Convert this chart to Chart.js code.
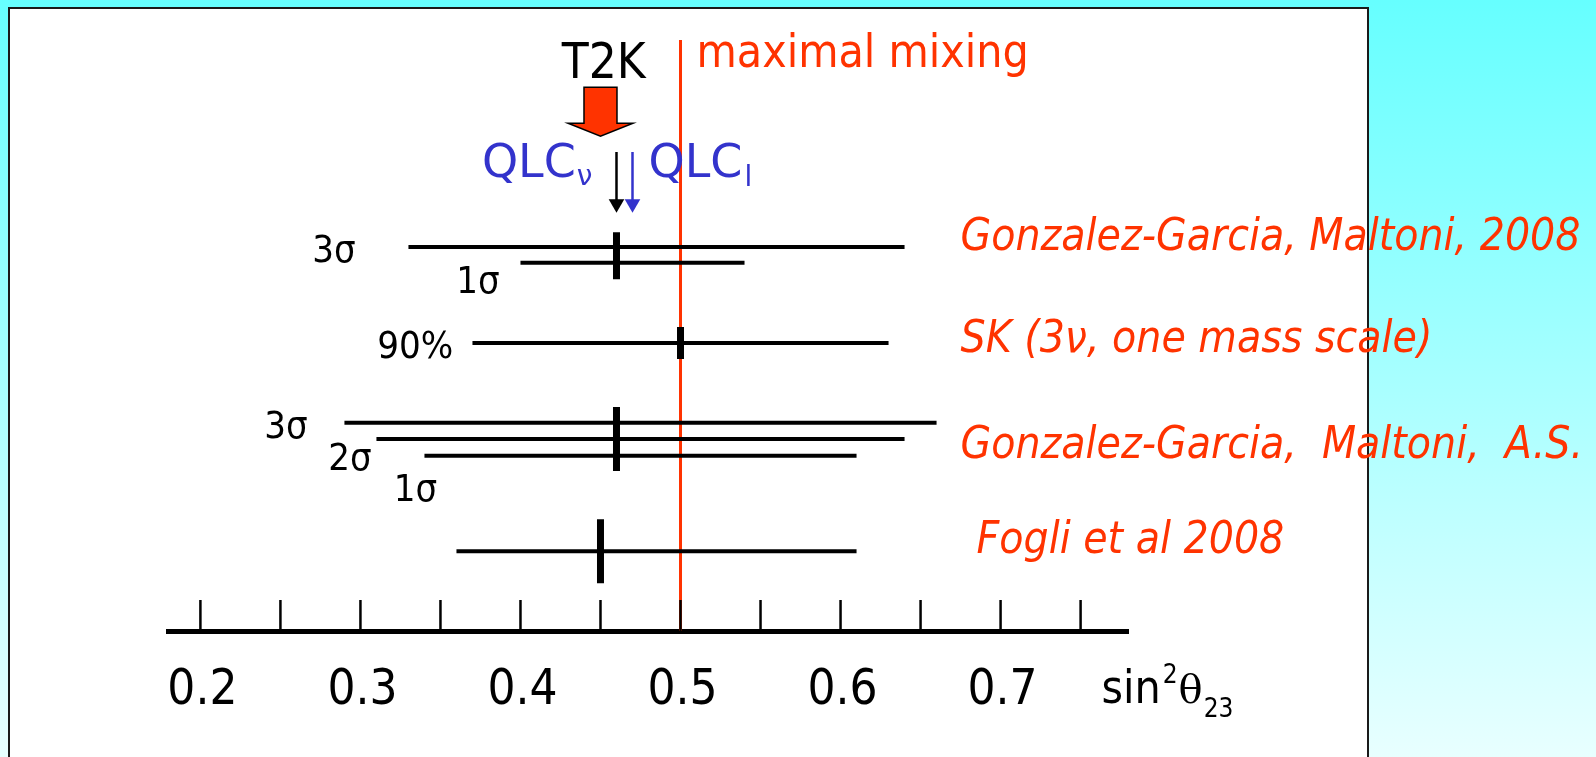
<!DOCTYPE html>
<html>
<head>
<meta charset="utf-8">
<title>sin2 theta23 fits</title>
<script src="https://cdn.jsdelivr.net/npm/chart.js@4.4.1/dist/chart.umd.min.js"></script>
<style>
  html, body { margin: 0; padding: 0; overflow: hidden; background: #fff; }
</style>
</head>
<body>
<canvas id="chart" width="1596" height="757"></canvas>
<script>
// fits of sin^2(theta_23)
const fitNames = ['Gonzalez-Garcia, Maltoni, 2008', 'SK (3ν, one mass scale)', 'Gonzalez-Garcia,  Maltoni,  A.S.', 'Fogli et al 2008'];
const fitNameX = [0.675, 0.675, 0.675, 0.685];
const fitNameY = [7.94, 5.81, 3.60, 1.63];

const bestFit = [0.46, 0.50, 0.46, 0.45];
const bestFitLevel = [7.82, 6.0, 4.0, 1.66];

// one entry per horizontal range
const rangeLow = [0.33, 0.40, 0.37, 0.29, 0.31, 0.34, 0.36];
const rangeHigh = [0.64, 0.54, 0.63, 0.66, 0.64, 0.61, 0.61];
const rangeLevel = [8.0, 7.67, 6.0, 4.34, 4.0, 3.65, 1.66];

// confidence level tags next to the ranges
const clText = ['3σ', '1σ', '90%', '3σ', '2σ', '1σ'];
const clX = [0.297, 0.387, 0.358, 0.267, 0.307, 0.348];
const clY = [7.69, 7.04, 5.69, 4.02, 3.35, 2.71];

// predictions on top
const t2k = 0.45;
const qlcNu = 0.46;
const qlcL = 0.47;
const maximalMixing = 0.5;

const tickLabels = [0.2, 0.3, 0.4, 0.5, 0.6, 0.7];
const tickMarks = [0.2, 0.25, 0.3, 0.35, 0.4, 0.45, 0.5, 0.55, 0.6, 0.65, 0.7, 0.75];

const FONT = "'DejaVu Sans Condensed', 'DejaVu Sans', sans-serif";
const QFONT = "'DejaVu Sans', sans-serif";
const RED = '#ff3300';
const BLUE = '#3333cc';

const datasets = [];

rangeLow.forEach((lo, i) => {
  datasets.push({
    type: 'line',
    data: [{ x: lo, y: rangeLevel[i] }, { x: rangeHigh[i], y: rangeLevel[i] }],
    borderColor: '#000',
    borderWidth: 4,
    pointRadius: 0
  });
});

datasets.push({
  type: 'scatter',
  data: bestFit.map((v, i) => ({ x: v, y: bestFitLevel[i] })),
  pointStyle: 'line',
  rotation: 90,
  pointRadius: [23.5, 16, 32, 32],
  borderWidth: 7,
  borderColor: '#000'
});

datasets.push({
  type: 'line',
  data: [{ x: maximalMixing, y: 0 }, { x: maximalMixing, y: 12.31 }],
  borderColor: RED,
  borderWidth: 3,
  pointRadius: 0
});

[[qlcNu, '#000'], [qlcL, BLUE]].forEach(([v, c]) => {
  datasets.push({
    type: 'line',
    data: [{ x: v, y: 9.98 }, { x: v, y: 8.95 }],
    borderColor: c,
    borderWidth: 2.5,
    pointRadius: 0
  });
  datasets.push({
    type: 'scatter',
    data: [{ x: v, y: 8.9 }],
    pointStyle: 'triangle',
    rotation: 180,
    pointRadius: 9,
    backgroundColor: c,
    borderWidth: 0
  });
});

const drawText = (ctx, s, x, y, font, color, align) => {
  ctx.font = font;
  ctx.fillStyle = color;
  ctx.textAlign = align || 'left';
  ctx.textBaseline = 'alphabetic';
  ctx.fillText(s, x, y);
  return ctx.measureText(s).width;
};

const slide = {
  id: 'slide',
  beforeDraw(chart) {
    const ctx = chart.ctx;
    const g = ctx.createLinearGradient(0, 0, 0, chart.height);
    g.addColorStop(0, '#66ffff');
    g.addColorStop(1, '#e8ffff');
    ctx.save();
    ctx.fillStyle = g;
    ctx.fillRect(0, 0, chart.width, chart.height);
    ctx.fillStyle = '#fff';
    ctx.fillRect(8, 7, 1361, 800);
    ctx.strokeStyle = '#1a1a1a';
    ctx.lineWidth = 2;
    ctx.strokeRect(9, 8, 1359, 800);
    ctx.restore();
  },
  afterDatasetsDraw(chart) {
    const ctx = chart.ctx;
    const xs = chart.scales.x;
    const ys = chart.scales.y;
    const X = v => xs.getPixelForValue(v);
    const Y = v => ys.getPixelForValue(v);
    ctx.save();

    // tick marks pointing up from the axis
    ctx.strokeStyle = '#000';
    ctx.lineWidth = 2.5;
    tickMarks.forEach(v => {
      ctx.beginPath();
      ctx.moveTo(X(v), xs.top);
      ctx.lineTo(X(v), xs.top - 31);
      ctx.stroke();
    });

    // T2K block arrow
    const ax = X(t2k);
    ctx.beginPath();
    ctx.moveTo(ax - 16.5, Y(11.33));
    ctx.lineTo(ax + 16.5, Y(11.33));
    ctx.lineTo(ax + 16.5, Y(10.58));
    ctx.lineTo(ax + 32.5, Y(10.58));
    ctx.lineTo(ax, Y(10.31));
    ctx.lineTo(ax - 32.5, Y(10.58));
    ctx.lineTo(ax - 16.5, Y(10.58));
    ctx.closePath();
    ctx.fillStyle = RED;
    ctx.fill();
    ctx.lineWidth = 1.5;
    ctx.strokeStyle = '#000';
    ctx.stroke();

    drawText(ctx, 'T2K', X(0.452), Y(11.52), '49px ' + FONT, '#000', 'center');
    drawText(ctx, 'maximal mixing', X(0.51), Y(11.75), '46px ' + FONT, RED);

    // QLC labels with subscripts
    ctx.font = '46px ' + QFONT;
    const wq = ctx.measureText('QLC').width;
    ctx.font = '28px ' + QFONT;
    const wn = ctx.measureText('ν').width;
    const qx = X(0.445) - wq - wn - 1;
    drawText(ctx, 'QLC', qx, Y(9.46), '46px ' + QFONT, BLUE);
    drawText(ctx, 'ν', qx + wq + 1, Y(9.3), '28px ' + QFONT, BLUE);
    const lx = X(0.48);
    drawText(ctx, 'QLC', lx, Y(9.46), '46px ' + QFONT, BLUE);
    drawText(ctx, 'l', lx + wq + 2, Y(9.28), '28px ' + QFONT, BLUE);

    clText.forEach((s, i) => {
      drawText(ctx, s, X(clX[i]), Y(clY[i]), '38px ' + FONT, '#000', 'right');
    });

    fitNames.forEach((s, i) => {
      drawText(ctx, s, X(fitNameX[i]), Y(fitNameY[i]), 'italic 44px ' + FONT, RED);
    });

    // axis title sin^2 theta_23
    let tx = X(0.763);
    const by = Y(-1.5);
    tx += drawText(ctx, 'sin', tx, by, '46px ' + FONT, '#000') + 2;
    tx += drawText(ctx, '2', tx, by - 20, '26px ' + FONT, '#000') + 1;
    tx += drawText(ctx, 'θ', tx, by, "40px 'DejaVu Serif', serif", '#000') + 1;
    drawText(ctx, '23', tx, by + 14, '26px ' + FONT, '#000');

    ctx.restore();
  }
};

new Chart(document.getElementById('chart'), {
  data: { datasets },
  options: {
    responsive: false,
    animation: false,
    events: [],
    layout: { autoPadding: false, padding: { left: 168.4, right: 467.4, top: 7, bottom: 0 } },
    plugins: { legend: { display: false }, tooltip: { enabled: false } },
    scales: {
      x: {
        type: 'linear',
        position: 'bottom',
        min: 0.18,
        max: 0.78,
        afterBuildTicks: s => { s.ticks = tickLabels.map(v => ({ value: v })); },
        afterFit: s => { s.height = 126; },
        ticks: {
          autoSkip: false,
          maxRotation: 0,
          padding: 31,
          labelOffset: 2,
          color: '#000',
          font: { family: FONT, size: 49 },
          callback: v => v.toFixed(1)
        },
        grid: { drawOnChartArea: false, drawTicks: false },
        border: { display: true, width: 5, color: '#000' }
      },
      y: { type: 'linear', display: false, min: 0, max: 13 }
    }
  },
  plugins: [slide]
});
</script>
</body>
</html>
